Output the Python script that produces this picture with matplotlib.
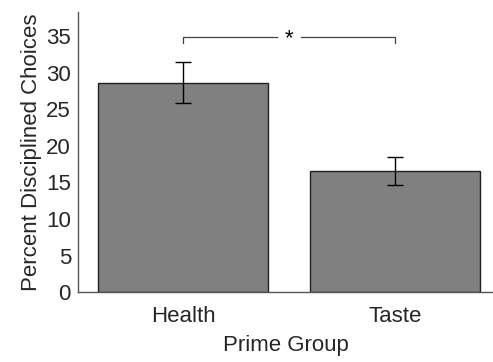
import matplotlib
matplotlib.use("Agg")
import matplotlib.pyplot as plt

groups = ["Health", "Taste"]
means = [28.65, 16.6]
errors = [2.75, 1.9]
sig_label = "*"

plt.rcParams['font.family'] = ['Liberation Sans', 'DejaVu Sans']
txt = '#262626'

fig = plt.figure(figsize=(4.93, 3.62), dpi=100)
ax = fig.add_axes([0.158, 0.193, 0.842, 0.774])
x = [1, 2]
ax.bar(x, means, width=0.8, color='#808080', edgecolor='#222222', linewidth=1.0)
ax.errorbar(x, means, yerr=errors, fmt='none', ecolor='black', elinewidth=1.0,
            capsize=6, capthick=1.0)
ax.set_xlim(0.505, 2.46)
ax.set_ylim(0, 38.3)
ax.set_xticks(x)
ax.set_xticklabels(groups)
ax.set_yticks(range(0, 36, 5))
ax.tick_params(axis='both', labelsize=16, colors=txt, length=0, pad=5)
ax.tick_params(axis='x', pad=10)
for s in ['top', 'right']:
    ax.spines[s].set_visible(False)
for s in ['left', 'bottom']:
    ax.spines[s].set_color('#555555')
    ax.spines[s].set_linewidth(1.0)
ax.set_ylabel("Percent Disciplined Choices", fontsize=16, color=txt, labelpad=3)
ax.set_xlabel("Prime Group", fontsize=16, color=txt, labelpad=6)

# significance bracket
yb = 34.9
yd = 34.0
mid = 1.5
gap = 0.055
lc = '#444444'
ax.plot([1, 1, mid - gap], [yd, yb, yb], color=lc, lw=0.9)
ax.plot([mid + gap, 2, 2], [yb, yb, yd], color=lc, lw=0.9)
ax.text(mid, yb - 0.3, sig_label, ha='center', va='center', fontsize=16, color='black')

fig.savefig("out.png", dpi=100)
